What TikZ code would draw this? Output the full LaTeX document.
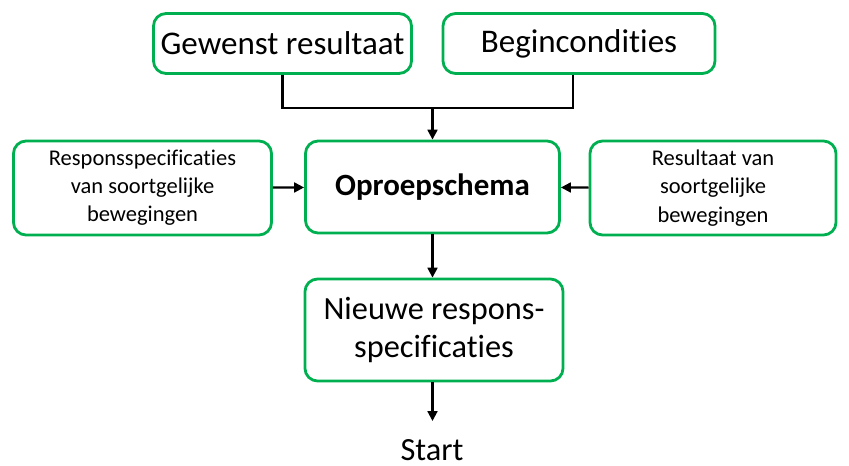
\documentclass[tikz,border=0pt]{standalone}
\usepackage{fontspec}
\setmainfont{Carlito}[Ligatures={NoCommon,NoContextual}, Contextuals=NoAlternate]
\usetikzlibrary{arrows.meta, positioning}
\usepackage{xcolor}
\definecolor{boxgreen}{RGB}{0,176,80}

\begin{document}
\begin{tikzpicture}[
    x=0.025cm, y=-0.025cm,
    thick,
    step box/.style={draw=boxgreen, line width=2pt, rounded corners=9pt, fill=white, align=center, inner sep=2pt},
    big text/.style={font=\fontsize{23}{27}\selectfont},
    small text/.style={font=\fontsize{16}{20}\selectfont},
    link/.style={line width=1.5pt},
    flow/.style={line width=1.5pt, -{Triangle[length=7pt, width=7pt]}}
]
    \useasboundingbox (0,0) rectangle (849,466);

    % Inputs at the top
    \node[step box, font=\fontsize{23.5}{27}\selectfont, minimum width=6.45cm, minimum height=1.5cm] (goal) at (282.5,43.5) {Gewenst resultaat};
    \node[step box, font=\fontsize{23.5}{27}\selectfont, minimum width=6.8cm, minimum height=1.5cm] (start cond) at (579,43.5) {Begincondities};

    % Middle row
    \node[step box, font=\fontsize{22}{26}\selectfont\bfseries, minimum width=6.35cm, minimum height=2.3cm] (schema) at (432.5,187) {Oproepschema};
    \node[step box, small text, minimum width=6.45cm, minimum height=2.35cm] (resp spec) at (142.5,188) {Responsspecificaties\\van soortgelijke\\bewegingen};
    \node[step box, small text, minimum width=6.15cm, minimum height=2.35cm] (outcome) at (713,188) {Resultaat van\\soortgelijke\\bewegingen};

    % Output
    \node[step box, big text, minimum width=6.45cm, minimum height=2.55cm] (new spec) at (434,330) {Nieuwe respons-\\specificaties};
    \node[big text, anchor=base, inner sep=1pt] (go) at (432,460) {Start};

    % Connectors
    \coordinate (join) at (schema.north |- 0,108);
    \draw[link] (goal.south) |- (join);
    \draw[link] (start cond.south -| 573,0) |- (join);
    \draw[flow] (join) -- (schema.north);
    \draw[flow] (resp spec) -- (schema);
    \draw[flow] (outcome) -- (schema);
    \draw[flow] (schema.south) -- (schema.south |- new spec.north);
    \draw[flow] (new spec.south -| schema.south) -- (schema.south |- 0,421);
\end{tikzpicture}
\end{document}
